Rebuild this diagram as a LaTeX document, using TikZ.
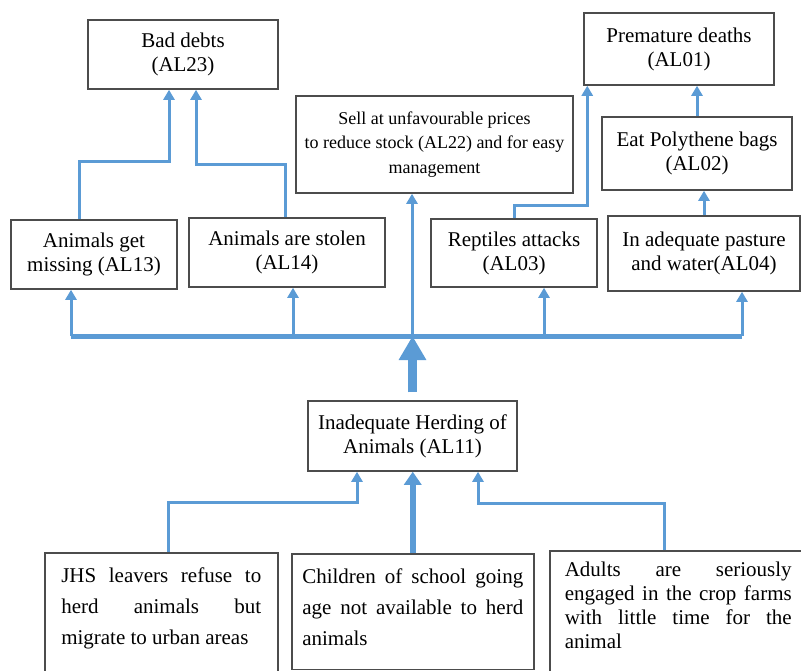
\documentclass[tikz,border=0pt]{standalone}
\usepackage{fontspec}
\setmainfont{Liberation Serif}
\usepackage{tikz}
\usetikzlibrary{arrows.meta}
\usepackage{xcolor}
\definecolor{linkblue}{RGB}{91,155,213}
\hyphenpenalty=10000
\exhyphenpenalty=10000

\begin{document}
\begin{tikzpicture}[x=1pt, y=-1pt,
	box/.style={draw=black!70, line width=1.5pt, align=center, inner sep=0pt,
		font=\fontsize{21}{24}\selectfont},
	causebox/.style={draw=black!70, line width=1.5pt, align=justify, anchor=north west,
		inner xsep=15pt, inner ysep=15pt, font=\fontsize{21}{31}\selectfont},
	link/.style={draw=linkblue, line width=3pt, -{Triangle[width=11pt,length=10pt]}},
	fatlink/.style={draw=linkblue, line width=5.5pt, -{Triangle[width=17pt,length=13pt]}},
	bigarrow/.style={draw=linkblue, line width=9pt, -{Triangle[width=26pt,length=24pt]}},
	bus/.style={draw=linkblue, line width=5pt}] % {{{
		\clip (0,0) rectangle (801,670);
		\pgfmathsetmacro{\busy}{336}
		% Effects {{{
		\node[box, minimum width=190, minimum height=69] (al23) at (183,54.5) {Bad debts\\(AL23)};
		\node[box, minimum width=190, minimum height=72] (al01) at (679,49) {Premature deaths\\(AL01)};
		\node[box, minimum width=277, minimum height=97, font=\fontsize{18}{24.5}\selectfont] (al22) at (434.5,144.5)
			{Sell at unfavourable prices\\to reduce stock (AL22) and for easy\\management};
		\node[box, minimum width=190, minimum height=73] (al02) at (697,153.5) {Eat Polythene bags\\(AL02)};
		\node[box, minimum width=166, minimum height=69] (al13) at (94,254.5) {Animals get\\missing (AL13)};
		\node[box, minimum width=196, minimum height=69] (al14) at (287,252.5) {Animals are stolen\\(AL14)};
		\node[box, minimum width=166, minimum height=68] (al03) at (514,253) {Reptiles attacks\\(AL03)};
		\node[box, minimum width=192, minimum height=75] (al04) at (704,253.5) {In adequate pasture\\and water(AL04)};
		% }}}
		% Core problem {{{
		\node[box, minimum width=209, minimum height=70] (al11) at (412.5,436) {Inadequate Herding of\\Animals (AL11)};
		% }}}
		% Causes {{{
		\node[causebox, text width=200, inner xsep=16.5pt, text depth=120] (jhs) at (44,552)
			{JHS leavers refuse to\linebreak herd animals but\linebreak migrate to urban areas};
		\node[causebox, text width=221, inner xsep=10.5pt, text depth=71] (child) at (291,553)
			{Children of school going age not available to herd animals};
		\node[causebox, text width=227, inner ysep=11.5pt, text depth=120, font=\fontsize{21}{24}\selectfont] (adult) at (549,550)
			{Adults are seriously engaged in the crop farms with little time for the animal};
		% }}}
		% Bus and links {{{
		\coordinate (busL) at (71,\busy);
		\coordinate (busR) at (742,\busy);
		\coordinate (f14) at (293,\busy);
		\coordinate (f22) at (412,\busy);
		\coordinate (f03) at (544,\busy);
		\draw[bus] (busL) -- (busR);
		\draw[bigarrow, shorten <=8pt] (al11.north) -- (al11.north |- busL);
		\draw[link] (busL) -- (busL |- al13.south);
		\draw[link] (f14) -- (f14 |- al14.south);
		\draw[link] (f22) -- (f22 |- al22.south);
		\draw[link] (f03) -- (f03 |- al03.south);
		\draw[link] (busR) -- (busR |- al04.south);
		% upper level
		\draw[link] ([xshift=-15pt]al13.north) -- ++(0,-58) -| ([xshift=-14pt]al23.south);
		\draw[link] ([xshift=-2pt]al14.north) -- ++(0,-53) -| ([xshift=13pt]al23.south);
		\draw[link] (al03.north) -- ++(0,-13) -| ([xshift=4pt]al01.south west);
		\draw[link] (al04.north) -- (al04.north |- al02.south);
		\draw[link] (al02.north) -- (al02.north |- al01.south);
		% causes
		\draw[link] ([xshift=7.5pt]jhs.north) -- ++(0,-50) -| ([xshift=-55.5pt]al11.south);
		\draw[fatlink] (child.north) -- (child.north |- al11.south);
		\draw[link] ([xshift=-14pt]adult.north) -- ++(0,-47) -| ([xshift=65.5pt]al11.south);
		% }}}
\end{tikzpicture} % }}}
\end{document}
